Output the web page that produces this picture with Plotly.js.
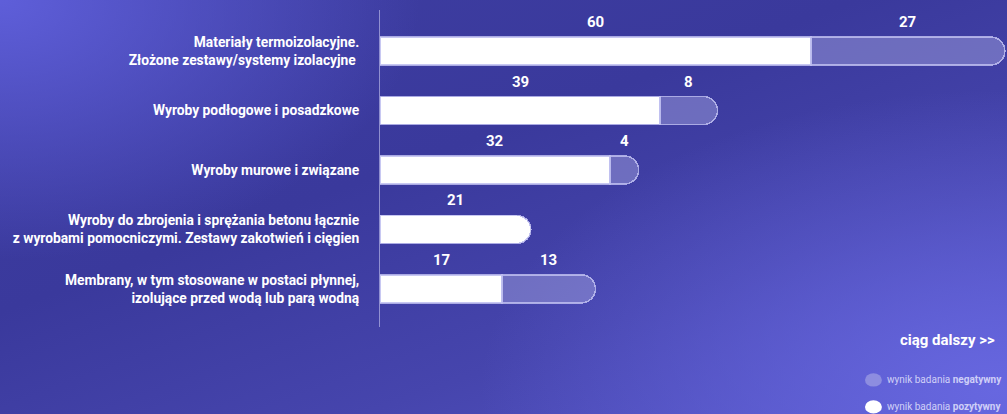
<!DOCTYPE html>
<html>
<head>
<meta charset="utf-8">
<script src="https://cdn.plot.ly/plotly-3.0.1.min.js"></script>
<style>
html, body { margin:0; padding:0; width:1007px; height:414px; overflow:hidden; }
body {
  background:
    radial-gradient(ellipse 520px 300px at 1000px 390px, rgba(104,104,225,0.95) 0%, rgba(104,104,225,0) 100%),
    radial-gradient(ellipse 420px 260px at 0px 0px, rgba(96,96,220,0.95) 0%, rgba(96,96,220,0) 100%),
    linear-gradient(160deg, #3e3ea2 0%, #3a399c 40%, #4645ad 70%, #5656c8 100%);
}
#chart { width:1007px; height:414px; }
</style>
</head>
<body>
<div id="chart"></div>
<script>
var categories = [
  "Materiały termoizolacyjne.<br>Złożone zestawy/systemy izolacyjne ",
  "Wyroby podłogowe i posadzkowe",
  "Wyroby murowe i związane",
  "Wyroby do zbrojenia i sprężania betonu łącznie<br>z wyrobami pomocniczymi. Zestawy zakotwień i cięgien",
  "Membrany, w tym stosowane w postaci płynnej,<br>izolujące przed wodą lub parą wodną"
];
var positive = [60, 39, 32, 21, 17];
var negative = [27, 8, 4, 0, 13];
var legendLabels = ["wynik badania <b>negatywny</b>", "wynik badania <b>pozytywny</b>"];
var moreLabel = "ciąg dalszy >>";

var FONT = "Roboto, 'Noto Sans', sans-serif";
var outline = {color: "rgba(190,190,240,0.85)", width: 1.5};

var traces = [
  {
    type: "bar", orientation: "h", name: "pozytywny",
    y: categories, x: positive.map(function (v) { return v > 0 ? v : null; }), width: 0.47,
    marker: {color: "#ffffff", line: outline, cornerradius: 14},
    hoverinfo: "x+y", showlegend: false
  },
  {
    type: "bar", orientation: "h", name: "negatywny",
    y: categories, x: negative.map(function (v) { return v > 0 ? v : null; }), width: 0.47,
    marker: {color: "rgba(150,150,215,0.55)", line: outline, cornerradius: 14},
    hoverinfo: "x+y", showlegend: false
  }
];

var annotations = [];
for (var i = 0; i < categories.length; i++) {
  if (positive[i] > 0) annotations.push({
    x: positive[i] / 2, y: categories[i], xref: "x", yref: "y",
    text: String(positive[i]), showarrow: false, yshift: 29,
    font: {family: FONT, size: 15, color: "#ffffff", weight: "bold"}
  });
  if (negative[i] > 0) annotations.push({
    x: positive[i] + negative[i] / 2, y: categories[i], xref: "x", yref: "y",
    text: String(negative[i]), showarrow: false, yshift: 29,
    font: {family: FONT, size: 15, color: "#ffffff", weight: "bold"}
  });
}
annotations.push({
  xref: "paper", yref: "paper", x: 1.0, y: -0.04, xanchor: "right", yanchor: "middle",
  xshift: -10,
  text: moreLabel, showarrow: false,
  font: {family: FONT, size: 15, color: "#ffffff", weight: "bold"}
});
annotations.push({
  xref: "paper", yref: "paper", x: 0.806, y: -0.167, xanchor: "left", yanchor: "middle",
  text: legendLabels[0], showarrow: false,
  font: {family: FONT, size: 10, color: "rgba(235,235,255,0.8)"}
});
annotations.push({
  xref: "paper", yref: "paper", x: 0.806, y: -0.252, xanchor: "left", yanchor: "middle",
  text: legendLabels[1], showarrow: false,
  font: {family: FONT, size: 10, color: "rgba(235,235,255,0.8)"}
});

var layout = {
  width: 1007, height: 414,
  margin: {l: 380, r: 0, t: 10, b: 87},
  paper_bgcolor: "rgba(0,0,0,0)",
  plot_bgcolor: "rgba(0,0,0,0)",
  barmode: "stack",
  showlegend: false,
  xaxis: {range: [0, 87.3], visible: false, fixedrange: true},
  yaxis: {
    type: "category", categoryorder: "array", categoryarray: categories,
    range: [4.64, -0.69],
    showgrid: false, zeroline: false,
    showline: true, linecolor: "rgba(200,200,240,0.6)", linewidth: 1,
    ticks: "", ticklabelstandoff: 17,
    tickfont: {family: FONT, size: 13.8, color: "#ffffff", weight: "bold"}
  },
  annotations: annotations,
  shapes: [
    {type: "circle", xref: "paper", yref: "paper", x0: 0.7735, x1: 0.8005, y0: -0.188, y1: -0.146,
     fillcolor: "rgba(170,170,230,0.6)", line: {width: 0}},
    {type: "circle", xref: "paper", yref: "paper", x0: 0.7735, x1: 0.8005, y0: -0.273, y1: -0.231,
     fillcolor: "#ffffff", line: {width: 0}}
  ]
};

Plotly.newPlot("chart", traces, layout, {displayModeBar: false, staticPlot: true});
</script>
</body>
</html>
